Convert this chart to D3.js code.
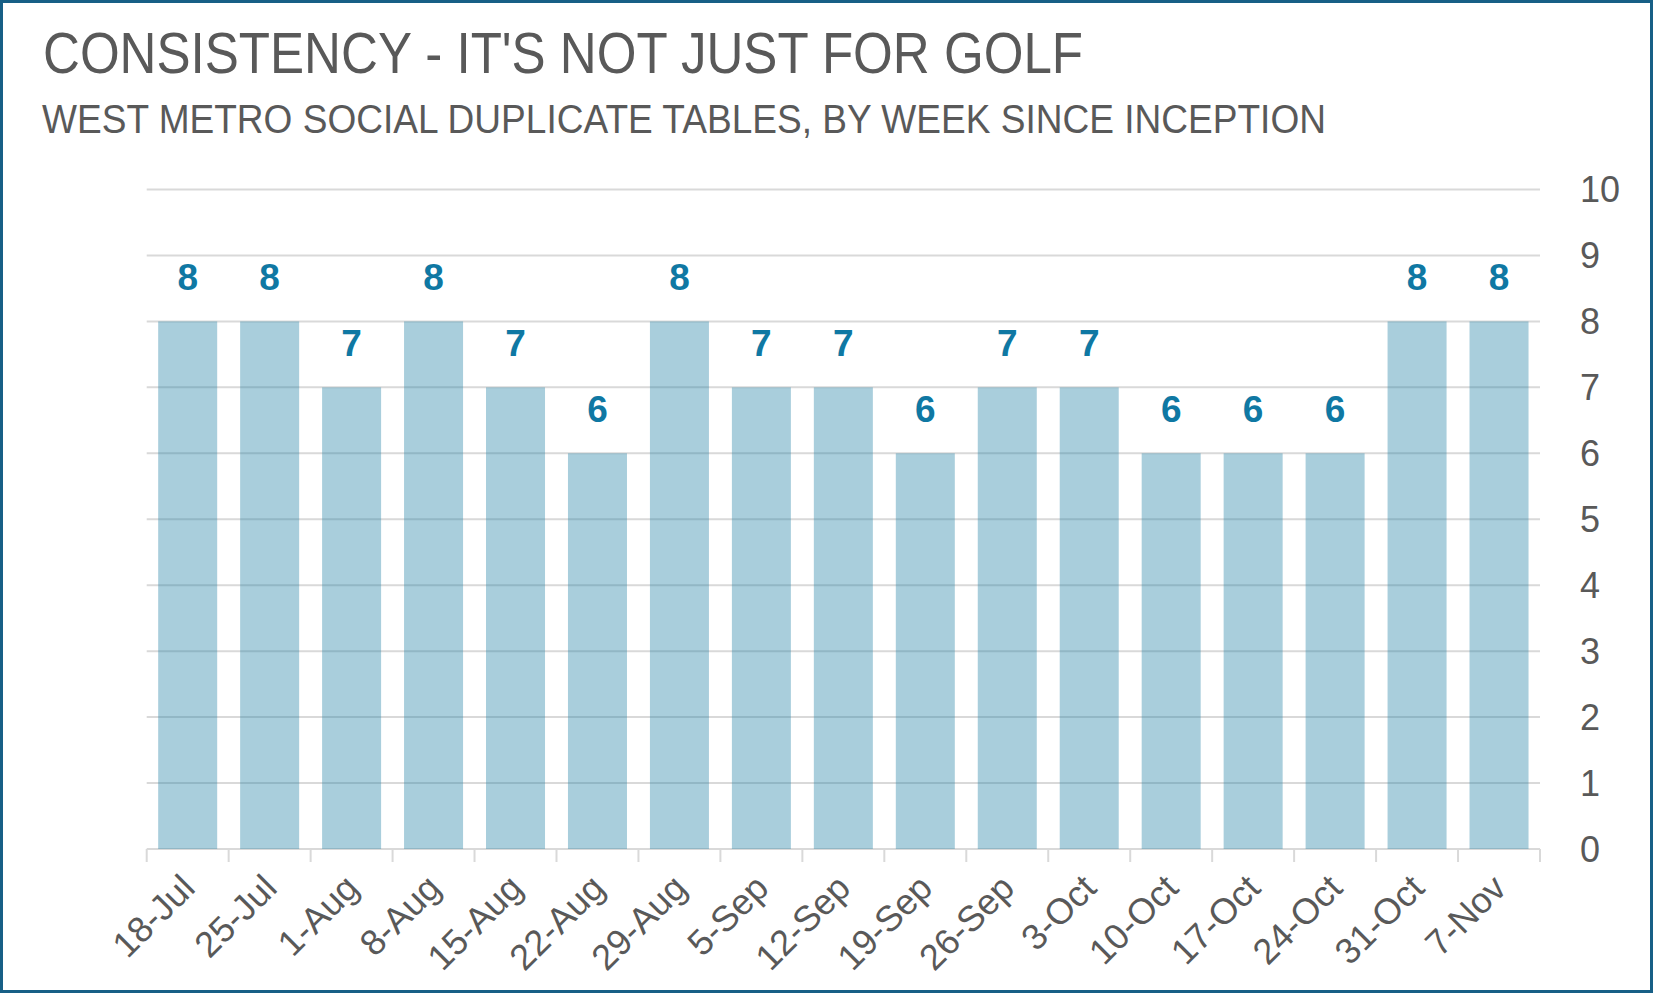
<!DOCTYPE html>
<html>
<head>
<meta charset="utf-8">
<script src="https://cdn.jsdelivr.net/npm/d3@7"></script>
<style>
  html, body { margin: 0; padding: 0; background: #fff; }
  svg { display: block; }
</style>
</head>
<body>
<svg id="chart" width="1653" height="993"></svg>
<script>
// Datos del gráfico
const semanas = ["18-Jul", "25-Jul", "1-Aug", "8-Aug", "15-Aug", "22-Aug", "29-Aug", "5-Sep", "12-Sep",
    "19-Sep", "26-Sep", "3-Oct", "10-Oct", "17-Oct", "24-Oct", "31-Oct", "7-Nov"];
const mesas = [8, 8, 7, 8, 7, 6, 8, 7, 7, 6, 7, 7, 6, 6, 6, 8, 8];
const ticksY = [0, 1, 2, 3, 4, 5, 6, 7, 8, 9, 10];
const titulo = "CONSISTENCY - IT'S NOT JUST FOR GOLF";
const subtitulo = "WEST METRO SOCIAL DUPLICATE TABLES, BY WEEK SINCE INCEPTION";

const svg = d3.select("#chart");
const ancho = 1653;
const alto = 993;
const gris = "#595959";
const fuente = "'Liberation Sans', Arial, sans-serif";

// Marco exterior
svg.append("rect")
    .attr("x", 1.5).attr("y", 1.5)
    .attr("width", ancho - 3).attr("height", alto - 3)
    .attr("fill", "#fff")
    .attr("stroke", "#175f86")
    .attr("stroke-width", 3);

// Títulos
svg.append("text")
    .attr("x", 43).attr("y", 73)
    .attr("fill", gris)
    .attr("font-family", "'Liberation Sans Narrow', 'Liberation Sans', sans-serif")
    .attr("font-size", 58)
    .attr("textLength", 1040)
    .attr("lengthAdjust", "spacingAndGlyphs")
    .text(titulo);

svg.append("text")
    .attr("x", 42).attr("y", 133)
    .attr("fill", gris)
    .attr("font-family", "'Liberation Sans Narrow', 'Liberation Sans', sans-serif")
    .attr("font-size", 40)
    .attr("textLength", 1284)
    .attr("lengthAdjust", "spacingAndGlyphs")
    .text(subtitulo);

// Escalas
const x = d3.scaleBand()
    .domain(semanas)
    .range([146.7, 1540])
    .paddingInner(0.28)
    .paddingOuter(0.14);

const y = d3.scaleLinear()
    .domain([0, 10])
    .range([849, 189.5]);

// Líneas de cuadrícula
svg.append("g")
    .selectAll("line")
    .data(ticksY.filter(d => d > 0))
    .enter()
    .append("line")
    .attr("x1", 146.7).attr("x2", 1540)
    .attr("y1", d => y(d)).attr("y2", d => y(d))
    .attr("stroke", "#d9d9d9")
    .attr("stroke-width", 2);

// Eje X y marcas entre categorías
const ejeX = svg.append("g");
ejeX.append("line")
    .attr("x1", 146.7).attr("x2", 1540)
    .attr("y1", y(0)).attr("y2", y(0))
    .attr("stroke", "#d9d9d9")
    .attr("stroke-width", 2);

ejeX.selectAll(".marca")
    .data(d3.range(semanas.length + 1))
    .enter()
    .append("line")
    .attr("class", "marca")
    .attr("x1", i => 146.7 + i * x.step())
    .attr("x2", i => 146.7 + i * x.step())
    .attr("y1", y(0)).attr("y2", y(0) + 13)
    .attr("stroke", "#d9d9d9")
    .attr("stroke-width", 2);

// Barras semitransparentes
svg.append("g")
    .selectAll("rect")
    .data(mesas)
    .enter()
    .append("rect")
    .attr("x", (d, i) => x(semanas[i]))
    .attr("y", d => y(d))
    .attr("width", x.bandwidth())
    .attr("height", d => y(0) - y(d))
    .attr("fill", "#2884a7")
    .attr("fill-opacity", 0.4);

// Etiquetas de datos
svg.append("g")
    .selectAll("text")
    .data(mesas)
    .enter()
    .append("text")
    .attr("x", (d, i) => x(semanas[i]) + x.bandwidth() / 2)
    .attr("y", d => y(d) - 31)
    .attr("text-anchor", "middle")
    .attr("font-family", fuente)
    .attr("font-weight", "bold")
    .attr("font-size", 37)
    .attr("fill", "#0f78a3")
    .text(d => d);

// Etiquetas del eje Y (a la derecha)
svg.append("g")
    .selectAll("text")
    .data(ticksY)
    .enter()
    .append("text")
    .attr("x", 1580)
    .attr("y", d => y(d))
    .attr("dy", "0.36em")
    .attr("font-family", fuente)
    .attr("font-size", 36)
    .attr("fill", gris)
    .text(d => d);

// Etiquetas del eje X rotadas
svg.append("g")
    .selectAll("text")
    .data(semanas)
    .enter()
    .append("text")
    .attr("transform", d => `translate(${x(d) + x.bandwidth() / 2},${y(0) + 32}) rotate(-45)`)
    .attr("dy", "0.36em")
    .attr("text-anchor", "end")
    .attr("font-family", fuente)
    .attr("font-size", 36)
    .attr("fill", gris)
    .text(d => d);
</script>
</body>
</html>
